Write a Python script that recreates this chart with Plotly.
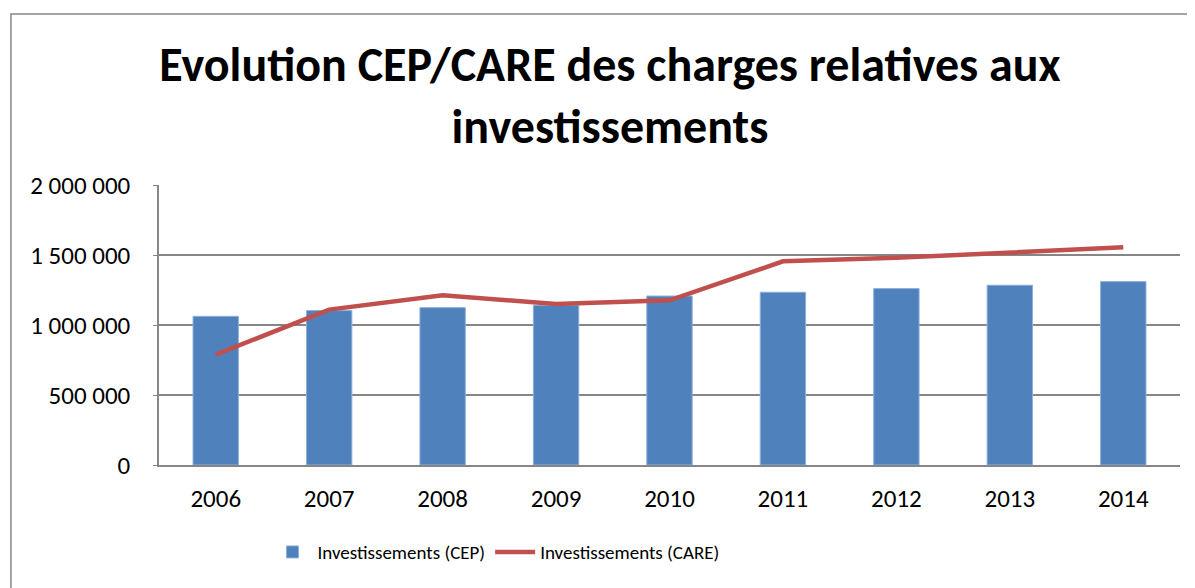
import plotly.graph_objects as go

years = ["2006", "2007", "2008", "2009", "2010", "2011", "2012", "2013", "2014"]
cep = [1062000, 1103000, 1124000, 1141000, 1207000, 1234000, 1260000, 1284000, 1310000]
care = [788000, 1110000, 1212000, 1150000, 1176000, 1455000, 1480000, 1517000, 1555000]
y_ticks = [0, 500000, 1000000, 1500000, 2000000]
y_ticktext = ["0", "500 000", "1 000 000", "1 500 000", "2 000 000"]

font_main = "Carlito, Lato, 'Open Sans', sans-serif"

fig = go.Figure()
fig.add_trace(go.Bar(x=years, y=cep, name="Investissements (CEP)",
                     marker=dict(color="#4F81BD", line=dict(color="#8EB0DA", width=1)),
                     width=0.4))
fig.add_trace(go.Scatter(x=years, y=care, name="Investissements (CARE)", mode="lines",
                         line=dict(color="#C0504D", width=4.5)))

fig.update_layout(
    width=1187, height=580,
    margin=dict(l=151, r=15, t=177, b=123),
    paper_bgcolor="white", plot_bgcolor="white",
    title=dict(text="<b>Evolution CEP/CARE des charges relatives aux<br>investissements</b>",
               xref="paper", x=0.4417, xanchor="center",
               yref="container", y=0.874, yanchor="top",
               font=dict(family=font_main, size=48, color="black")),
    font=dict(family=font_main, size=19, color="black"),
    showlegend=True,
    legend=dict(orientation="h", x=0.330, xanchor="center", y=-0.311, yanchor="middle",
                font=dict(size=19), itemwidth=40, traceorder="normal"),
    xaxis=dict(showgrid=False, showline=True, linecolor="#868686", linewidth=1.5,
               ticks="", tickfont=dict(size=25), ticklabelstandoff=10),
    yaxis=dict(range=[0, 2000000], tickvals=y_ticks, ticktext=y_ticktext,
               showgrid=True, gridcolor="#868686", gridwidth=1.5,
               showline=True, linecolor="#868686", linewidth=1.5,
               ticks="outside", ticklen=4, tickcolor="#868686",
               tickfont=dict(size=25), ticklabelstandoff=18, zeroline=False),
    bargap=0.6,
    shapes=[dict(type="rect", xref="paper", yref="paper",
                 x0=-0.145, x1=1.0098, y0=-0.5, y1=1.611,
                 line=dict(color="#868686", width=1.5), fillcolor="rgba(0,0,0,0)",
                 layer="below")],
)

fig.write_html("out.html")
